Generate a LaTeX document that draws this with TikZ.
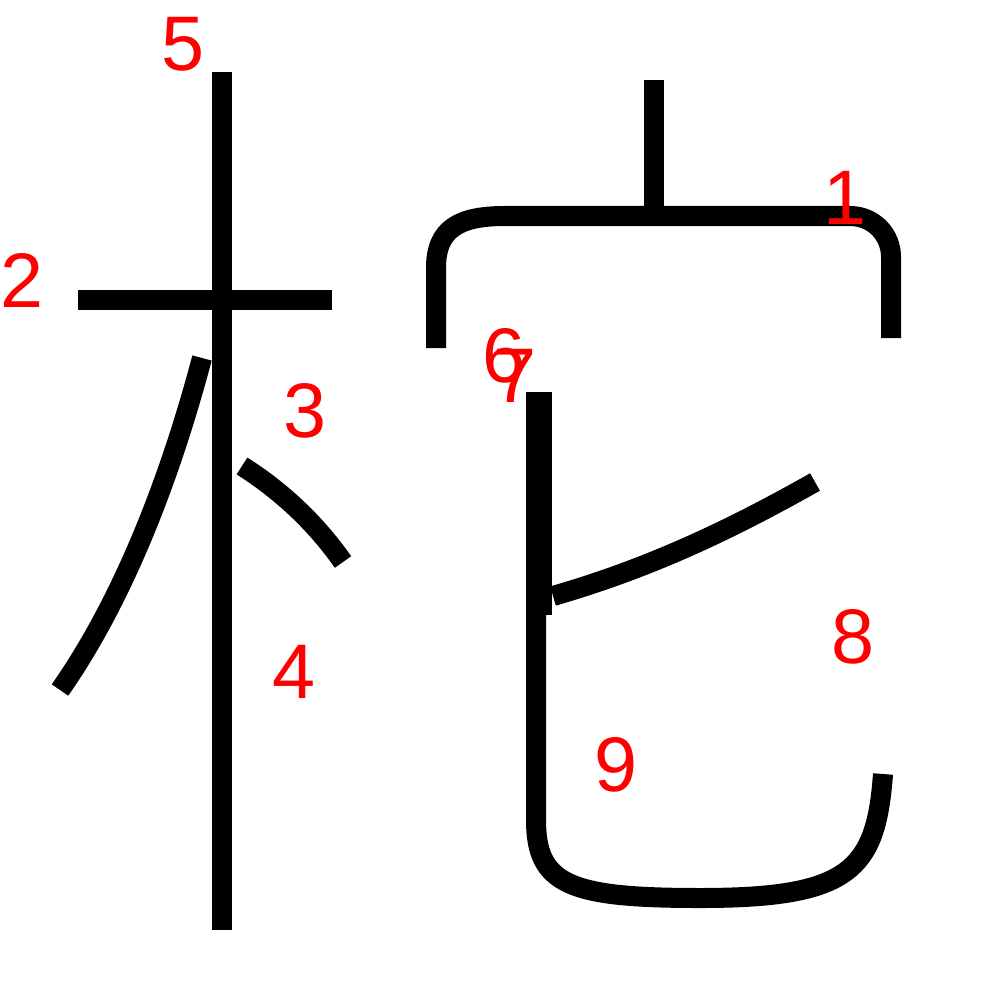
\documentclass[tikz,border=0pt]{standalone}
\usepackage{fontspec}
\setmainfont{Liberation Sans}
\usetikzlibrary{positioning}
\tikzset{
  stroke/.style={draw=black, line width=0.2cm, line cap=butt, line join=round},
  num/.style={text=red, inner sep=0pt, font=\fontsize{22}{26}\selectfont},
}

\begin{document}
\begin{tikzpicture}[x=0.01cm, y=-0.01cm]
    \useasboundingbox (0,0) rectangle (1000,1000);
    % left part
    \draw[stroke] (222,72) -- (222,930);
    \draw[stroke] (78,300) -- (332,300);
    \draw[stroke] (202,358) .. controls (175,460) and (130,590) .. (60,690);
    \draw[stroke] (242,466) .. controls (280,490) and (315,522) .. (343,562);
    % roof
    \draw[stroke] (654,80) -- (654,216);
    \draw[stroke] (436,348) -- (436,268) .. controls (436,228) and (460,216) .. (505,216)
      -- (850,216) .. controls (873,216) and (891,234) .. (891,257) -- (891,338);
    % lower part
    \draw[stroke] (542,392) -- (542,615);
    \draw[stroke] (553,596) .. controls (650,568) and (730,530) .. (815,482);
    \draw[stroke] (536,392) -- (536,820) .. controls (536,885) and (570,898) .. (700,898)
      .. controls (850,898) and (876,870) .. (883,774);
    % stroke numbers
    \node[num] (n1) at (845,198) {1};
    \node[num] (n2) at (22,280) {2};
    \node[num] (n3) at (305,411) {3};
    \node[num] (n4) at (294,672) {4};
    \node[num] (n5) at (183,44) {5};
    \node[num] (n6) at (504,356) {6};
    \node[num] (n7) at (515,376) {7};
    \node[num] (n8) at (853,637) {8};
    \node[num] (n9) at (616,765) {9};
\end{tikzpicture}
\end{document}
